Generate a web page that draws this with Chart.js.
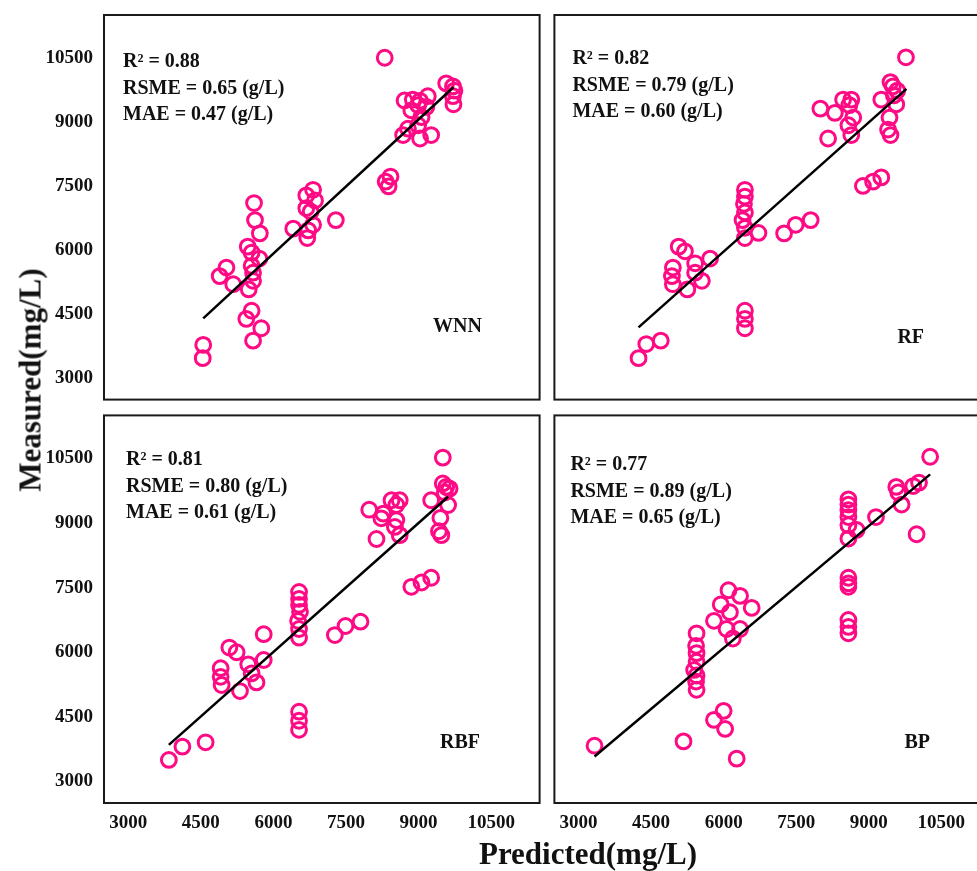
<!DOCTYPE html>
<html>
<head>
<meta charset="utf-8">
<script src="https://cdn.jsdelivr.net/npm/chart.js@4"></script>
<style>
  body { margin: 0; background: #fff; width: 977px; height: 871px; overflow: hidden; position: relative; }
  canvas { position: absolute; }
  .title { position: absolute; font: bold 31px "Liberation Serif", "Times New Roman", serif; color: #111; white-space: nowrap; line-height: 1; }
</style>
</head>
<body>
<canvas id="wnn" width="550" height="410" style="left:0;top:0"></canvas>
<canvas id="rf" width="456" height="410" style="left:544px;top:0"></canvas>
<canvas id="rbf" width="550" height="466" style="left:0;top:405px"></canvas>
<canvas id="bp" width="456" height="466" style="left:544px;top:405px"></canvas>
<div class="title" style="left:30px;top:380px;transform:translate(-50%,-50%) rotate(-90deg)">Measured(mg/L)</div>
<div class="title" style="left:588px;top:853px;transform:translate(-50%,-50%)">Predicted(mg/L)</div>
<script>
// axis ticks (both axes, all panels)
const tickValues = [3000, 4500, 6000, 7500, 9000, 10500];

// WNN
const wnnPredicted = [8300, 9570, 9710, 9740, 9710, 9720, 8710, 8880, 9030, 9190, 9160, 8990, 8850, 9060, 8990, 8780, 8680, 9030, 9260,
  8420, 8320, 8380, 6820, 6680, 6860, 6680, 6770, 6820, 6720, 6410, 6700, 7290,
  5600, 5620, 5720, 5470, 5550, 5710, 5550, 5030, 4890, 5580, 5170, 5580, 5490, 5550, 5440, 5750, 5580, 4550, 4540];
const wnnMeasured = [10500, 9900, 9830, 9730, 9600, 9410, 9500, 9520, 9490, 9600, 9350, 9390, 9270, 9110, 8920, 8840, 8690, 8610, 8690,
  7720, 7600, 7490, 7410, 7280, 7160, 6980, 6900, 6590, 6460, 6500, 6280, 6700,
  7100, 6700, 6390, 6080, 5940, 5800, 5630, 5590, 5390, 5470, 5200, 5280, 5080, 4580, 4390, 4170, 3880, 3780, 3470];
const wnnFitX = [4550, 9720];
const wnnFitY = [4400, 9810];

// RF
const rfPredicted = [9770, 9450, 9500, 9590, 9520, 9260, 9570, 9430, 9400, 9450, 8000, 8300, 8470, 8640, 8600, 8680, 8580, 8640, 8160,
  8880, 9090, 9260, 6440, 6440, 6420, 6440, 6390, 6440, 6440, 6720, 7250, 7490, 7800,
  5070, 5200, 5720, 5410, 4950, 4930, 4950, 5410, 5550, 5250, 6440, 6440, 6440, 4400, 4700, 4240];
const rfMeasured = [10510, 9930, 9830, 9730, 9620, 9520, 9410, 9100, 8820, 8690, 9310, 9210, 9520, 9520, 9390, 9100, 8920, 8690, 8610,
  7500, 7600, 7700, 7410, 7250, 7080, 6880, 6700, 6520, 6280, 6400, 6390, 6590, 6700,
  6080, 5970, 5800, 5690, 5590, 5390, 5200, 5470, 5280, 5080, 4580, 4390, 4170, 3800, 3880, 3470];
const rfFitX = [4240, 9780];
const rfFitY = [4190, 9770];

// RBF
const rbfPredicted = [9500, 9500, 9570, 9640, 9540, 9260, 9610, 9450, 9420, 9470, 7980, 8270, 8230, 8440, 8610, 8540, 8540, 8510, 8610, 8130,
  8850, 9060, 9260, 6530, 6530, 6530, 6550, 6510, 6530, 6530, 7270, 7490, 7800,
  5800, 5090, 5240, 5480, 5800, 5550, 4910, 4910, 4930, 5650, 5310, 6530, 6530, 6530, 4120, 4600, 3840];
const rbfMeasured = [10520, 9920, 9840, 9800, 9710, 9530, 9420, 9120, 8810, 8720, 9310, 9220, 9110, 9530, 9530, 9420, 9070, 8910, 8720, 8630,
  7520, 7620, 7730, 7400, 7240, 7100, 6940, 6730, 6540, 6340, 6400, 6610, 6710,
  6420, 6110, 6000, 5720, 5820, 5510, 5630, 5430, 5240, 5300, 5100, 4620, 4410, 4200, 3810, 3910, 3500];
const rbfFitX = [3840, 9610];
const rbfFitY = [3850, 9610];

// BP
const bpPredicted = [10270, 9570, 9610, 9680, 9920, 10040, 9990, 9150, 8580, 8580, 8580, 8580, 8580, 8750, 8580, 8580, 8580, 8580, 8580, 8580, 8580,
  6100, 6340, 5940, 6580, 6130, 5800, 6060, 6340, 6190,
  5440, 5430, 5440, 5440, 5390, 5440, 5430, 5440, 6000, 5800, 6030, 5170, 6270, 3330];
const bpMeasured = [10540, 9840, 9710, 9430, 9860, 9940, 8740, 9140, 9550, 9430, 9300, 9140, 8950, 8840, 8640, 7730, 7600, 7520, 6750, 6590, 6440,
  7440, 7310, 7110, 7030, 6930, 6730, 6540, 6540, 6320,
  6440, 6150, 5980, 5780, 5590, 5460, 5320, 5130, 4640, 4430, 4220, 3930, 3530, 3830];
const bpFitX = [3330, 10270];
const bpFitY = [3580, 10130];

const panelNames = ['WNN', 'RF', 'RBF', 'BP'];
const r2Values = ['0.88', '0.82', '0.81', '0.77'];
const rsmeValues = ['0.65', '0.79', '0.80', '0.89'];
const maeValues = ['0.47', '0.60', '0.61', '0.65'];

const serif = '"Liberation Serif", "Times New Roman", serif';
const pink = '#ff0a85';

function pairs(xs, ys) {
  return xs.map((x, i) => ({ x: x, y: ys[i] }));
}

function boxPlugin(idx, textPos, namePos) {
  return {
    id: 'box' + idx,
    afterDraw(chart) {
      const ctx = chart.ctx;
      const a = chart.chartArea;
      ctx.save();
      ctx.strokeStyle = '#1a1a1a';
      ctx.lineWidth = 2;
      ctx.strokeRect(a.left, a.top, a.right - a.left, a.bottom - a.top);
      ctx.fillStyle = '#111';
      ctx.font = 'bold 20px ' + serif;
      ctx.textBaseline = 'alphabetic';
      const lines = [
        'R\u00b2 = ' + r2Values[idx],
        'RSME = ' + rsmeValues[idx] + ' (g/L)',
        'MAE = ' + maeValues[idx] + ' (g/L)'
      ];
      lines.forEach((t, i) => ctx.fillText(t, a.left + textPos[0], a.top + textPos[1] + i * 26.5));
      ctx.fillText(panelNames[idx], a.left + namePos[0], a.top + namePos[1]);
      ctx.restore();
    }
  };
}

function makePanel(id, idx, xs, ys, fx, fy, opt) {
  const tickFont = { family: serif, size: 19, weight: 'bold' };
  const xScale = {
    type: 'linear', min: 2500, max: 11500,
    display: opt.showX,
    afterBuildTicks: s => { s.ticks = tickValues.map(v => ({ value: v })); },
    grid: { display: false, drawTicks: false },
    border: { display: false },
    ticks: { font: tickFont, color: '#111', padding: 9, autoSkip: false, maxRotation: 0, callback: v => String(v) }
  };
  const yScale = {
    type: 'linear', min: 2500, max: 11500,
    display: opt.showY,
    afterBuildTicks: s => { s.ticks = tickValues.map(v => ({ value: v })); },
    grid: { display: false, drawTicks: false },
    border: { display: false },
    ticks: { font: tickFont, color: '#111', padding: 11, autoSkip: false, callback: v => String(v) }
  };
  if (opt.showX) {
    xScale.afterFit = s => { s.height = 40; s.paddingLeft = 0; s.paddingRight = 0; };
  }
  if (opt.showY) {
    yScale.afterFit = s => { s.width = 104; s.paddingTop = 0; s.paddingBottom = 0; };
  }
  new Chart(document.getElementById(id), {
    type: 'scatter',
    data: {
      datasets: [{
        data: pairs(fx, fy),
        showLine: true,
        borderColor: '#000',
        borderWidth: 2.5,
        pointRadius: 0,
        order: 0
      }, {
        data: pairs(xs, ys),
        pointStyle: 'circle',
        pointRadius: 7.4,
        borderWidth: 3,
        borderColor: pink,
        backgroundColor: 'rgba(0,0,0,0)',
        order: 1
      }]
    },
    options: {
      responsive: false,
      animation: false,
      layout: { padding: opt.padding },
      plugins: { legend: { display: false }, tooltip: { enabled: false } },
      scales: { x: xScale, y: yScale }
    },
    plugins: [boxPlugin(idx, opt.textPos, opt.namePos)]
  });
}

makePanel('wnn', 0, wnnPredicted, wnnMeasured, wnnFitX, wnnFitY,
  { showX: false, showY: true, padding: { top: 15, right: 10, bottom: 9, left: 0 }, textPos: [19, 52], namePos: [329, 317] });
makePanel('rf', 1, rfPredicted, rfMeasured, rfFitX, rfFitY,
  { showX: false, showY: false, padding: { top: 15, right: 10, bottom: 9, left: 10 }, textPos: [18, 49], namePos: [343, 328] });
makePanel('rbf', 2, rbfPredicted, rbfMeasured, rbfFitX, rbfFitY,
  { showX: true, showY: true, padding: { top: 10, right: 10, bottom: 28, left: 0 }, textPos: [22, 50], namePos: [336, 333] });
makePanel('bp', 3, bpPredicted, bpMeasured, bpFitX, bpFitY,
  { showX: true, showY: false, padding: { top: 10, right: 10, bottom: 28, left: 10 }, textPos: [16, 55], namePos: [350, 333] });
</script>
</body>
</html>
